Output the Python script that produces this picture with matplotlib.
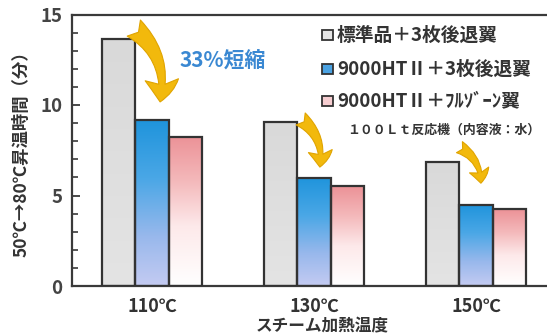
import matplotlib
matplotlib.use("Agg")
import matplotlib.pyplot as plt
import numpy as np
from matplotlib.colors import LinearSegmentedColormap
from matplotlib.patches import Rectangle, FancyArrowPatch, ArrowStyle

plt.rcParams['font.family'] = ['Noto Sans CJK JP', 'DejaVu Sans']

# ---- data ----
categories = ['110℃', '130℃', '150℃']
series_names = ['標準品＋3枚後退翼', '9000HTⅡ＋3枚後退翼', '9000HTⅡ＋ﾌﾙｿﾞｰﾝ翼']
standard = [13.63, 9.08, 6.87]
ht_3blade = [9.17, 5.97, 4.48]
ht_fullzone = [8.25, 5.52, 4.25]
yticks = [0, 5, 10, 15]
reduction_text = '33%短縮'
note_text = '１００Ｌｔ反応機（内容液：水）'
xlabel = 'スチーム加熱温度'
ylabel = '50℃→80℃昇温時間（分）'

W, H = 547, 336
fig = plt.figure(figsize=(W / 100, H / 100), dpi=100)
ax = fig.add_axes([72 / W, 1 - 286 / H, 1 - 72 / W, (286 - 14.5) / H])

edge = '#333333'
x = np.arange(len(categories))
bw = 0.205

cmap_gray = LinearSegmentedColormap.from_list('g', ['#d9d9d9', '#e4e4e4'])
cmap_blue = LinearSegmentedColormap.from_list(
    'b', [(0.0, '#1f94dc'), (0.35, '#4aa7e6'), (0.7, '#98b8ec'), (1.0, '#c4cbf2')])
cmap_pink = LinearSegmentedColormap.from_list(
    'p', [(0.0, '#ec9297'), (0.3, '#f4b9bb'), (0.6, '#fde9ea'), (1.0, '#ffffff')])

grad = np.linspace(0, 1, 256).reshape(-1, 1)
series = [(standard, -bw, cmap_gray), (ht_3blade, 0.0, cmap_blue), (ht_fullzone, bw, cmap_pink)]
for vals, off, cm in series:
    bars = ax.bar(x + off, vals, width=bw, facecolor='none', edgecolor=edge,
                  linewidth=1.6, zorder=3)
    for b in bars:
        x0, w_, h_ = b.get_x(), b.get_width(), b.get_height()
        ax.imshow(grad, cmap=cm, aspect='auto', extent=[x0, x0 + w_, 0, h_],
                  origin='upper', zorder=2, interpolation='bilinear')

ax.set_xlim(-0.494, 2.438)
ax.set_ylim(0, 15)

# axes styling
for s in ['left', 'bottom', 'top']:
    ax.spines[s].set_color('#3a3a3a')
    ax.spines[s].set_linewidth(1.6)
ax.spines['right'].set_visible(False)

ax.set_xticks(x)
ax.set_xticklabels(categories, fontsize=13, fontweight='bold', color='#333333')
ax.tick_params(axis='x', length=0, pad=8)
ax.set_yticks(yticks)
ax.set_yticklabels([str(t) for t in yticks], fontsize=13.5, fontweight='bold', color='#444444')
ax.set_yticks(np.arange(0, 16, 1), minor=True)
ax.tick_params(axis='y', which='major', direction='in', length=6, width=1.3,
               color='#3a3a3a', pad=7)
ax.tick_params(axis='y', which='minor', direction='in', length=4, width=1.2,
               color='#3a3a3a')

fig.text(322 / W, 1 - 326 / H, xlabel, ha='center', va='center', fontsize=12,
         fontweight='bold', color='#333333')
fig.text(22 / W, 1 - 150 / H, ylabel, ha='center', va='center', rotation=90,
         fontsize=12.5, fontweight='bold', color='#333333')

# arrows (relative to the bars)
arrow_col = '#f2b90c'
arrow_specs = [
    # (group, start dy above gray, end dy above blue, x-shift of start, scale)
    (0, 0.62, 1.0, -0.01, 1.0),
    (1, 0.15, 0.6, 0.02, 0.72),
    (2, 0.8, 1.2, 0.0, 0.6),
]
for g, dys, dye, dxs, sc in arrow_specs:
    xs = x[g] - bw / 2 + dxs
    ys = standard[g] + dys
    xe = x[g] + 0.05 * sc
    ye = ht_3blade[g] + dye
    style = ArrowStyle('Fancy', head_length=0.8, head_width=1.2, tail_width=0.75)
    arr = FancyArrowPatch((xs, ys), (xe, ye), arrowstyle=style,
                          connectionstyle='arc3,rad=-0.3', mutation_scale=20 * sc,
                          facecolor=arrow_col, edgecolor='#e0a400', linewidth=0.8,
                          shrinkA=0, shrinkB=0, zorder=5)
    ax.add_patch(arr)

ax.text(x[0] + 0.17, (standard[0] + ht_3blade[0]) / 2 + 1.0, reduction_text,
        fontsize=15, fontweight='bold', color='#3a88d2', va='center', ha='left')

# legend
leg_fill = ['#e4e4e4', '#4aa2e2', '#f6cdd0']
leg_y = [35, 69, 101]
for name, fc, py in zip(series_names, leg_fill, leg_y):
    fig.add_artist(Rectangle((322 / W, 1 - (py + 5) / H), 11 / W, 10 / H,
                             transform=fig.transFigure, facecolor=fc,
                             edgecolor='#333333', linewidth=1.3))
    fig.text(337 / W, 1 - py / H, name, ha='left', va='center', fontsize=13.5,
             fontweight='bold', color='#333333')

fig.text(347 / W, 1 - 130 / H, note_text, ha='left', va='center', fontsize=9.3,
         fontweight='bold', color='#333333')

fig.savefig('out.png', dpi=100)
